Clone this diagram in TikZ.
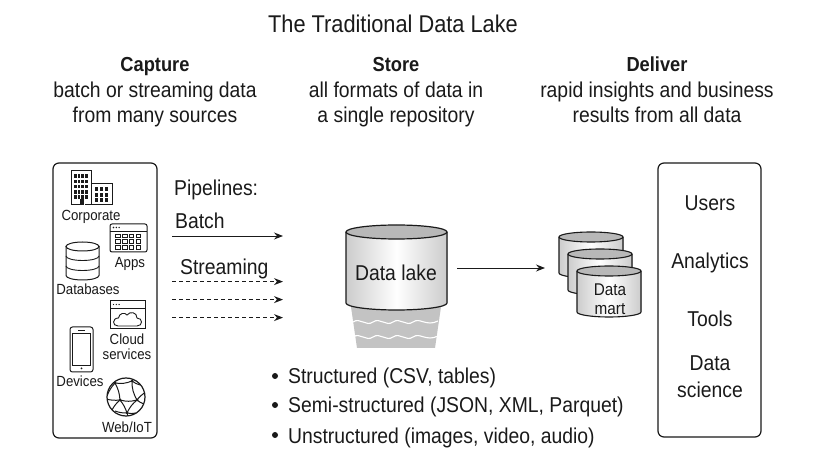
\documentclass[tikz,border=0pt]{standalone}
\usepackage{fontspec}
\setmainfont[FakeStretch=0.9]{Liberation Sans}
\usetikzlibrary{arrows.meta}
\definecolor{inkc}{HTML}{1A1A1A}
\definecolor{lakegray}{HTML}{B8B8B8}
\definecolor{sidegray}{HTML}{CCCCCC}
\tikzset{
  txt/.style={inner sep=0pt,anchor=base,text=inkc,yshift=-1pt,font=\fontsize{21.5}{24}\selectfont},
  small/.style={inner sep=0pt,anchor=base,text=inkc,yshift=-1pt,font=\fontsize{14.7}{16}\selectfont},
  head/.style={txt,font=\fontsize{20.3}{24}\selectfont\bfseries},
  frame/.style={draw=inkc,line width=1.2pt,rounded corners=6pt,fill=white},
  flow/.style={draw=inkc,line width=0.95pt,-{Stealth[length=9pt,width=7pt,inset=3pt]}},
  flowd/.style={flow,dash pattern=on 4pt off 3pt},
  icon/.style={draw=inkc,line width=1pt,fill=white},
  thin line/.style={draw=inkc,line width=0.9pt},
  pin/.style={fill=inkc,draw=none}
}
\newcommand{\cyl}[6]{% x1, x2, ytop centre, ry, ybottom, lw
  \fill[left color=sidegray,right color=sidegray,middle color=white]
    (#1,#3) -- (#1,#5) arc[start angle=180,end angle=0,x radius={(#2-#1)/2},y radius=#4] -- (#2,#3) -- cycle;
  \draw[draw=inkc,line width=#6] (#1,#3) -- (#1,#5) arc[start angle=180,end angle=0,x radius={(#2-#1)/2},y radius=#4] -- (#2,#3);
  \draw[draw=inkc,line width=#6,fill=lakegray] ({(#1+#2)/2},#3) ellipse[x radius={(#2-#1)/2},y radius=#4];
}
\begin{document}
\begin{tikzpicture}[x=1pt,y=-1pt]
\useasboundingbox (0,0) rectangle (828,462);
\fill[white] (0,0) rectangle (828,462);

\node[txt,font=\fontsize{24.2}{26}\selectfont] (title) at (393,31.5) {The Traditional Data Lake};
\node[head] (h1) at (155,71) {Capture};
\node[txt] (h1a) at (155,97) {batch or streaming data};
\node[txt] (h1b) at (155,122) {from many sources};
\node[head] (h2) at (396,71) {Store};
\node[txt] (h2a) at (396,97) {all formats of data in};
\node[txt] (h2b) at (396,122) {a single repository};
\node[head] (h3) at (657,71) {Deliver};
\node[txt] (h3a) at (657,97) {rapid insights and business};
\node[txt] (h3b) at (657,122) {results from all data};

% side boxes
\path[frame] (53,163) rectangle (157,438);
\path[frame] (658,163) rectangle (761,437);

% corporate icon
\path[icon] (71,171) rectangle (91,205);
\path[icon] (91,184) rectangle (112,205);
\foreach \c in {0,1,2,3} \foreach \r in {0,1,2,3,4}
  \fill[inkc] (74+\c*3.7,174.5+\r*5.2) rectangle ++(2.7,3.6);
\fill[white] (79.5,199) rectangle (84.5,206);
\fill[inkc] (80,199) rectangle (84,205);
\foreach \c in {0,1,2} \foreach \r in {0,1,2}
  \fill[inkc] (95+\c*4.8,187.5+\r*5.5) rectangle ++(3.4,3.6);
\node[small] (corp) at (91,220) {Corporate};

% apps icon
\path[icon,rounded corners=2pt] (110,224) rectangle (147,252);
\draw[thin line] (110,231) -- (147,231);
\foreach \c in {0,1,2} \fill[inkc] (113.5+\c*2.8,227.5) circle (0.8);
\foreach \c in {0,1,2,3} \foreach \r in {0,1,2}
  \draw[draw=inkc,line width=0.8pt] (115.5+\c*6.8,234+\r*5.7) rectangle ++(4.6,3.6);
\node[small] (apps) at (130,267) {Apps};

% database icon
\path[icon] (66,246.5) -- (66,275.5) arc[start angle=180,end angle=0,x radius=16.5,y radius=4.5] -- (99,246.5) -- cycle;
\draw[icon] (82.5,246.5) ellipse[x radius=16.5,y radius=4.5];
\foreach \y in {256,266}
  \draw[thin line] (66,\y) arc[start angle=180,end angle=0,x radius=16.5,y radius=4.5];
\node[small] (db) at (88,294) {Databases};

% cloud services icon
\path[icon] (110,301) rectangle (145,329);
\draw[thin line] (110,308) -- (145,308);
\foreach \c in {0,1,2} \fill[inkc] (113.5+\c*2.8,304.5) circle (0.7);
\draw[thin line] (118,326) .. controls (112,326) and (112,318) .. (118.5,318)
  .. controls (119,313) and (125,312) .. (127,315)
  .. controls (130,311) and (137,312) .. (137,318)
  .. controls (143,318) and (143,326) .. (137,326) -- cycle;
\node[small] (cloud) at (127,344) {Cloud};
\node[small] (serv) at (127,359) {services};

% devices icon
\path[icon,rounded corners=2.5pt] (70,327) rectangle (93,372);
\draw[draw=inkc,line width=0.8pt] (72.5,333) rectangle (90.5,365);
\draw[draw=inkc,line width=0.9pt] (78,330) -- (85,330);
\fill[inkc] (81.5,368.5) circle (1);
\node[small] (dev) at (80,386) {Devices};

% web icon
\path[icon,line width=1.2pt] (126,397) circle (19);
\begin{scope}
\clip (126,397) circle (19);
\foreach \a/\b/\c/\d/\bend in {
  115/383/120/400/12,
  115/383/132/381/-15,
  115/383/107/396/-10,
  120/400/137/400/-15,
  120/400/106/399/10,
  120/400/127/413/10,
  120/400/112/410/-10,
  137/400/127/413/-12,
  137/400/132/381/15,
  137/400/146/392/10,
  137/400/144/404/-10,
  127/413/115/411/10,
  127/413/136/413/-12,
  132/381/140/385/-10,
  127/413/127/418/0}
  \draw[draw=inkc,line width=1pt] (\a,\b) to[bend left=\bend] (\c,\d);
\end{scope}
\foreach \x/\y in {115/383,120/400,137/400,127/413,132/381}
  \fill[inkc] (\x,\y) circle (1.5);
\node[small] (web) at (127,431) {Web/IoT};

% pipelines
\node[txt,anchor=base west] (pipe) at (174,195) {Pipelines:};
\node[txt,anchor=base west] (batch) at (175,228) {Batch};
\node[txt,anchor=base west] (stream) at (180,274) {Streaming};
\coordinate (b0) at (172,236); \coordinate (b1) at (283,236);
\coordinate (s0a) at (172,281.6); \coordinate (s1a) at (283,281.6);
\coordinate (s0b) at (172,299.6); \coordinate (s1b) at (283,299.6);
\coordinate (s0c) at (172,317.6); \coordinate (s1c) at (283,317.6);
\draw[flow] (b0) -- (b1);
\draw[flowd] (s0a) -- (s1a);
\draw[flowd] (s0b) -- (s1b);
\draw[flowd] (s0c) -- (s1c);

% data lake
\fill[lakegray!85] (350,300) -- (442,300) -- (435,348) -- (357,348) -- cycle;
\foreach \y in {322,337}
  \draw[white,line width=1.1pt] (353,\y) .. controls (360,\y-5) and (366,\y+5) .. (373,\y)
    .. controls (380,\y-5) and (386,\y+5) .. (393,\y)
    .. controls (400,\y-5) and (406,\y+5) .. (413,\y)
    .. controls (420,\y-5) and (426,\y+5) .. (438,\y-1);
\cyl{346}{447}{232}{7}{303}{1.2pt}
\node[txt] (lake) at (396,280) {Data lake};

% data marts
\cyl{559}{623}{237}{5}{273}{1.1pt}
\cyl{568}{632}{254}{5}{290}{1.1pt}
\cyl{577}{641}{271}{5}{312}{1.1pt}
\node[small,font=\fontsize{17}{19}\selectfont] (mart1) at (610,295) {Data};
\node[small,font=\fontsize{17}{19}\selectfont] (mart2) at (610,314) {mart};
\coordinate (m0) at (457,268); \coordinate (m1) at (545,268);
\draw[flow] (m0) -- (m1);

% bullets
\foreach \y in {376,405,435} \fill[inkc] (275,\y) circle (3);
\node[txt,anchor=base west] (l1) at (288,383) {Structured (CSV, tables)};
\node[txt,anchor=base west] (l2) at (288,412) {Semi-structured (JSON, XML, Parquet)};
\node[txt,anchor=base west] (l3) at (288,442) {Unstructured (images, video, audio)};

% right box
\node[txt] (u1) at (710,210) {Users};
\node[txt] (u2) at (710,268) {Analytics};
\node[txt] (u3) at (710,326) {Tools};
\node[txt] (u4) at (710,370) {Data};
\node[txt] (u5) at (710,397) {science};
\end{tikzpicture}
\end{document}
